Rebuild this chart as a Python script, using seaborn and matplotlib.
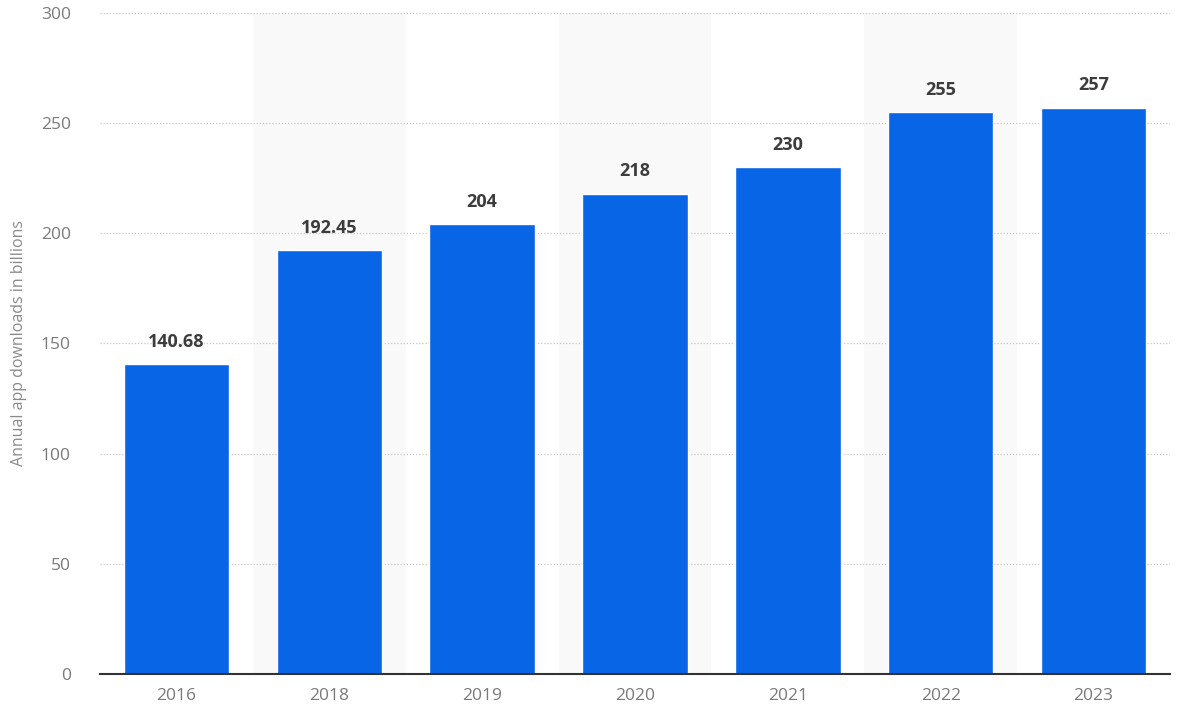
import pandas as pd
import seaborn as sns
import matplotlib.pyplot as plt

years = ["2016", "2018", "2019", "2020", "2021", "2022", "2023"]
downloads = [140.68, 192.45, 204, 218, 230, 255, 257]
value_labels = ["140.68", "192.45", "204", "218", "230", "255", "257"]
y_ticks = [0, 50, 100, 150, 200, 250, 300]

df = pd.DataFrame({"Year": years, "Downloads": downloads})

sns.set_style("white")
plt.rcParams['font.family'] = ['Open Sans', 'DejaVu Sans']

fig = plt.figure(figsize=(11.77, 7.12), dpi=100)
ax = fig.add_axes([0.085, 0.0534, 0.909, 0.9286])

# alternating light bands behind every other category
for i in range(len(years)):
    if i % 2 == 1:
        ax.axvspan(i - 0.5, i + 0.5, color="#f9f9f9", zorder=0, lw=0)

sns.barplot(data=df, x="Year", y="Downloads", ax=ax, color="#0866e6",
            width=0.69, saturation=1, zorder=3)

for i, (v, lab) in enumerate(zip(downloads, value_labels)):
    ax.text(i, v + 6, lab, ha="center", va="bottom", fontsize=13,
            fontweight="bold", color="#3c3c3c", zorder=4)

ax.set_ylim(0, 300)
ax.set_xlim(-0.5, len(years) - 0.5)
ax.set_yticks(y_ticks)
ax.grid(axis="y", color="#c8c8c8", linestyle=(0, (1, 1.5)), linewidth=0.9, zorder=1)
ax.set_axisbelow(True)
for s in ["top", "right", "left"]:
    ax.spines[s].set_visible(False)
ax.spines["bottom"].set_color("#333333")
ax.spines["bottom"].set_linewidth(1.5)
ax.spines["bottom"].set_zorder(5)
ax.tick_params(axis="both", length=0, labelsize=12.5, labelcolor="#7a7a7a")
ax.tick_params(axis="y", pad=21)
ax.tick_params(axis="x", pad=10)
ax.set_xlabel("")
ax.set_ylabel("Annual app downloads in billions", fontsize=11.5, color="#8a8a8a", labelpad=10)

fig.savefig("out.png", dpi=100)
